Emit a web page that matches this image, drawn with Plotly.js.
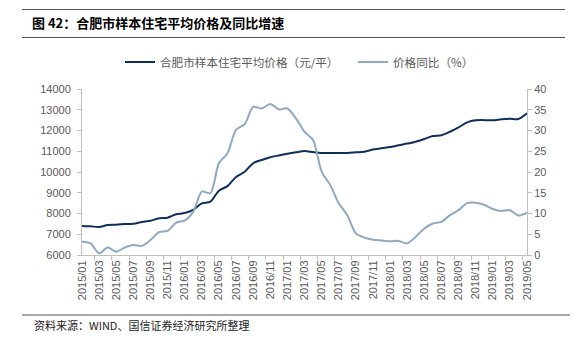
<!DOCTYPE html>
<html>
<head>
<meta charset="utf-8">
<script src="https://cdn.plot.ly/plotly-3.0.1.min.js"></script>
<style>
html,body{margin:0;padding:0;background:#fff;}
#chart{width:584px;height:343px;}
</style>
</head>
<body>
<div id="chart"></div>
<script>
// Categories (months)
const months = ["2015/01","2015/02","2015/03","2015/04","2015/05","2015/06","2015/07","2015/08","2015/09","2015/10","2015/11","2015/12",
"2016/01","2016/02","2016/03","2016/04","2016/05","2016/06","2016/07","2016/08","2016/09","2016/10","2016/11","2016/12",
"2017/01","2017/02","2017/03","2017/04","2017/05","2017/06","2017/07","2017/08","2017/09","2017/10","2017/11","2017/12",
"2018/01","2018/02","2018/03","2018/04","2018/05","2018/06","2018/07","2018/08","2018/09","2018/10","2018/11","2018/12",
"2019/01","2019/02","2019/03","2019/04","2019/05"];

// 合肥市样本住宅平均价格（元/平）
const avgPrice = [7400,7380,7350,7445,7460,7490,7510,7590,7650,7770,7800,7960,
8020,8170,8490,8570,9100,9320,9760,10010,10420,10580,10710,10800,
10880,10950,11010,10960,10920,10920,10920,10920,10950,10980,11080,11150,
11200,11290,11370,11460,11590,11735,11770,11940,12150,12390,12490,12500,
12490,12540,12570,12555,12830];

// 价格同比（%）
const yoy = [3.2,2.8,0.4,1.8,0.8,1.8,2.4,2.2,3.6,5.5,5.8,7.8,
8.3,10.4,15.3,14.9,22.1,24.5,30.2,31.5,35.7,35.3,36.4,35.1,
35.3,32.9,29.7,27.7,20.1,16.9,12.5,9.6,5.2,4.2,3.7,3.5,
3.3,3.4,2.8,4.4,6.4,7.6,8.0,9.6,10.8,12.5,12.6,12.1,
11.1,10.6,10.8,9.5,10.2];

const seriesNames = ["合肥市样本住宅平均价格（元/平）","价格同比（%）"];
const titleText = "图 42：合肥市样本住宅平均价格及同比增速";
const sourceText = "资料来源：WIND、国信证券经济研究所整理";

const cjk = '"Noto Sans CJK SC", "Liberation Sans", sans-serif';
const latin = '"Liberation Sans", Arial, "Noto Sans CJK SC", sans-serif';
const grey = '#595959';
const axisCol = '#bfbfbf';

const traces = [
  {x: months, y: avgPrice, name: seriesNames[0], type: 'scatter', mode: 'lines', legend: 'legend',
   line: {color: '#0e2f5e', width: 2, shape: 'spline', smoothing: 0.8}, yaxis: 'y'},
  {x: months, y: yoy, name: seriesNames[1], type: 'scatter', mode: 'lines', legend: 'legend2',
   line: {color: '#8fa9c0', width: 2, shape: 'spline', smoothing: 0.8}, yaxis: 'y2'}
];

const lineCol = '#555555';
const legFont = {family: cjk, size: 11.6, color: grey};
const legY = 1 + (89-62)/166;
const layout = {
  width: 584, height: 343,
  margin: {l: 82, r: 57, t: 89, b: 88},
  paper_bgcolor: '#fff', plot_bgcolor: '#fff',
  showlegend: true,
  font: {family: latin, size: 11, color: grey},
  title: {text: '<b>' + titleText + '</b>', xref: 'container', yref: 'container',
          x: 32/584, xanchor: 'left', y: 1 - 23/343, yanchor: 'middle',
          font: {family: cjk, size: 13, color: '#000'}},
  legend: {orientation: 'h', x: (120-82)/445, xanchor: 'left', y: legY, yanchor: 'middle',
           font: legFont, bgcolor: 'rgba(0,0,0,0)'},
  legend2: {orientation: 'h', x: (353-82)/445, xanchor: 'left', y: legY, yanchor: 'middle',
           font: legFont, bgcolor: 'rgba(0,0,0,0)'},
  xaxis: {type: 'category', tickmode: 'linear', dtick: 2, tick0: 0, tickangle: -90,
          ticks: 'outside', tickson: 'boundaries', ticklen: 4, tickcolor: axisCol,
          showline: true, linecolor: axisCol, linewidth: 1, showgrid: false, zeroline: false,
          tickfont: {family: latin, size: 11, color: grey}, fixedrange: true},
  yaxis: {range: [6000, 14000], dtick: 1000, tickformat: 'd', ticks: 'outside', ticklen: 4, tickcolor: axisCol,
          showline: true, linecolor: axisCol, linewidth: 1, showgrid: false, zeroline: false,
          tickfont: {family: latin, size: 11, color: grey}, ticklabelstandoff: 4},
  yaxis2: {range: [0, 40], dtick: 5, overlaying: 'y', side: 'right', ticks: 'outside', ticklen: 4,
           tickcolor: axisCol, showline: true, linecolor: axisCol, linewidth: 1, showgrid: false,
           zeroline: false, tickfont: {family: latin, size: 11, color: grey}},
  shapes: [
    {type: 'line', xref: 'paper', yref: 'paper', x0: (22-82)/445, x1: (565-82)/445,
     y0: (255-9.5)/166, y1: (255-9.5)/166, line: {color: lineCol, width: 1}},
    {type: 'line', xref: 'paper', yref: 'paper', x0: (22-82)/445, x1: (565-82)/445,
     y0: (255-37.5)/166, y1: (255-37.5)/166, line: {color: lineCol, width: 1}},
    {type: 'line', xref: 'paper', yref: 'paper', x0: (22-82)/445, x1: (570-82)/445,
     y0: (255-315)/166, y1: (255-315)/166, line: {color: lineCol, width: 1}}
  ],
  annotations: [
    {text: sourceText, xref: 'paper', yref: 'paper', x: (32-82)/445, xanchor: 'left',
     y: (255-325)/166, yanchor: 'middle', showarrow: false,
     font: {family: cjk, size: 11, color: '#222'}}
  ]
};

Plotly.newPlot('chart', traces, layout, {displayModeBar: false, staticPlot: true});
</script>
</body>
</html>
